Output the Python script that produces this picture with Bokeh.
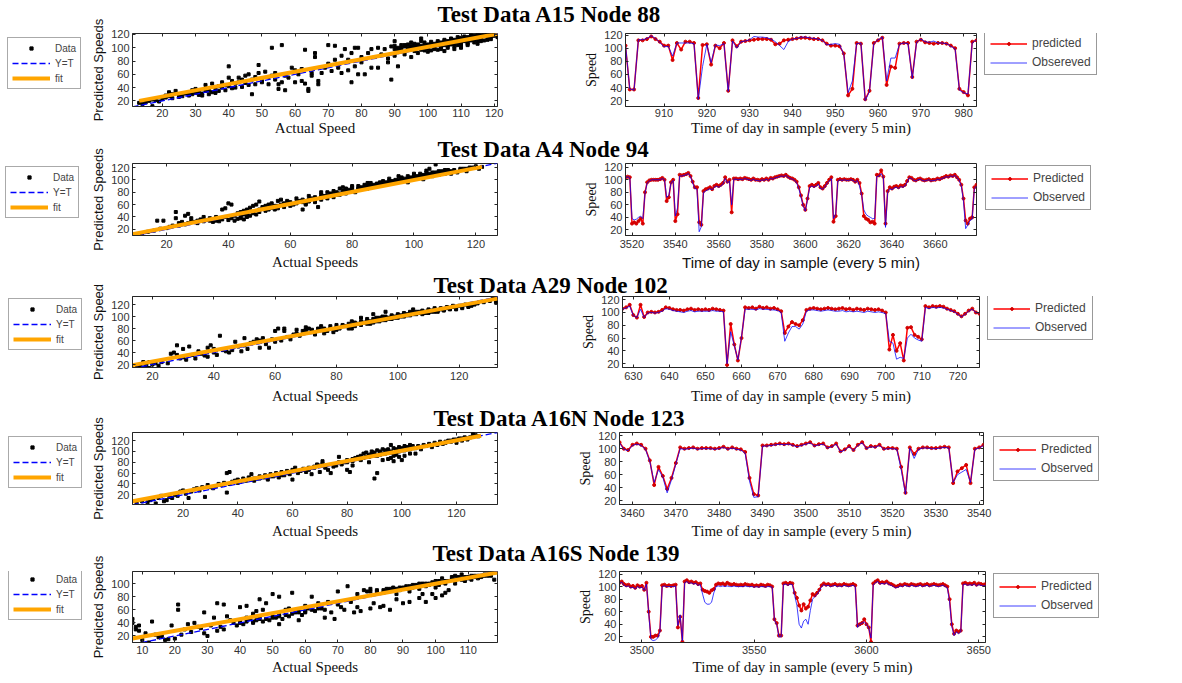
from bokeh.plotting import figure
from bokeh.models import Range1d, FixedTicker, Legend, LegendItem, Label, LinearAxis
from bokeh.layouts import column, row
from bokeh.embed import file_html
from bokeh.resources import INLINE

NAN = float("nan")

# ----------------------------- DATA -----------------------------
titles = ["Test Data A15 Node 88", "Test Data A4 Node 94", "Test Data A29 Node 102",
          "Test Data A16N Node 123", "Test Data A16S Node 139"]
sc_xlabels = ["Actual Speed", "Actual Speeds", "Actual Speeds", "Actual Speeds", "Actual Speeds"]
sc_ylabels = ["Predicted Speeds", "Predicted Speeds", "Predicted Speed", "Predicted Speeds", "Predicted Speeds"]
ts_xlabel = "Time of day in sample (every 5 min)"
ts_ylabel = "Speed"
sc_legend_labels = ["Data", "Y=T", "fit"]
ts_pred_labels = ["predicted", "Predicted", "Predicted", "Predicted", "Predicted"]
ts_obs_labels = ["Obsereved", "Observed", "Observed", "Observed", "Observed"]

# scatter axis ranges and ticks
sc_xr = [(11, 121), (9, 127), (13.5, 132.5), (1.5, 135), (7, 119)]
sc_yr = [(11.5, 121.5), (10, 126.5), (15, 133.5), (2, 135), (10, 118.5)]
sc_xticks = [[20, 30, 40, 50, 60, 70, 80, 90, 100, 110, 120],
             [20, 40, 60, 80, 100, 120],
             [20, 40, 60, 80, 100, 120],
             [20, 40, 60, 80, 100, 120],
             [10, 20, 30, 40, 50, 60, 70, 80, 90, 100, 110]]
sc_yticks = [[20, 40, 60, 80, 100, 120]] * 4 + [[20, 40, 60, 80, 100]]

# fit line end points
fit_x = [[13, 121], [9, 122], [13.5, 132.5], [1.5, 129], [7, 119]]
fit_y = [[20, 121], [12, 121], [19, 130], [8, 129], [16, 117]]

sc1_pts = [(13,17),(14,15),(15,18),(16,20),(17,12),(17,22),(18,21),(19,19),(20,23),(21,25),(21,28),(22,27),
 (22,33),(23,30),(23,24),(24,35),(25,26),(25,29),(26,27),(27,31),(28,28),(28,33),(29,30),(29,36),(30,38),
 (30,32),(31,29),(31,33),(32,31),(32,28),(33,35),(33,44),(34,30),(34,36),(35,33),(35,46),(36,38),(36,32),
 (37,42),(37,35),(38,40),(38,48),(39,36),(39,44),(40,72),(40,55),(40,42),(41,39),(41,50),(42,46),(42,40),
 (43,55),(43,48),(44,52),(44,41),(45,58),(45,47),(46,60),(46,44),(47,30),(47,52),(48,56),(48,45),(49,62),
 (49,74),(50,50),(50,48),(51,64),(52,56),(52,45),(53,58),(53,100),(54,62),(54,52),(55,38),(55,45),(56,104),
 (56,48),(57,36),(57,58),(58,55),(59,70),(60,48),(60,66),(61,60),(62,68),(62,50),(63,97),(63,46),(64,35),
 (64,38),(65,58),(65,62),(66,86),(66,92),(67,45),(67,50),(68,62),(69,70),(70,104),(70,76),(71,65),(72,103),
 (72,82),(73,70),(74,88),(74,62),(75,98),(76,66),(76,82),(77,92),(77,48),(78,100),(78,72),(79,60),(79,100),
 (80,78),(80,86),(81,60),(82,92),(83,70),(83,98),(84,86),(85,100),(85,70),(86,90),(87,98),(88,78),(88,84),
 (89,52),(89,102),(90,88),(90,98),(91,72),(91,95),(92,100),(92,104),(93,90),(93,102),(94,97),(95,103),
 (95,86),(96,104),(96,95),(97,100),(97,105),(98,110),(98,103),(99,104),(99,96),(100,102),(100,105),
 (101,103),(101,96),(102,106),(102,100),(103,104),(103,108),(104,102),(104,106),(105,110),(105,104),
 (106,103),(106,108),(107,112),(107,105),(108,110),(108,106),(109,112),(109,104),(110,115),(110,108),
 (111,113),(111,110),(112,116),(112,108),(113,115),(113,111),(114,118),(114,112),(115,116),(115,110),
 (116,119),(116,113),(117,118),(117,111),(118,120),(118,114),(119,117),(120,120),(121,116),(110,100),
 (112,104),(115,106),(108,98),(105,95),(100,94),(97,92),(103,97),(90,110),(95,108),(98,114),(96,106),(94,105),
 (95,100),(96,102),(97,103),(98,100),(99,102),(100,104),(101,106),(102,103),(103,106),(104,108),(105,107),
 (106,110),(107,109),(108,112),(109,110),(110,112),(111,114),(112,112),(113,117),(114,115),(115,118),
 (116,116),(117,120),(118,117),(119,120),(120,118),(99,108),(101,109),(103,110),(105,112),(107,114),
 (109,116),(111,117),(113,119),(115,120),(104,98),(106,100),(108,102),(110,104),(112,106),(114,108),
 (116,110),(118,112),(119,113),(102,98),(100,99),(98,97),(97,104),(96,100),(94,100),(93,104),(92,97),
 (91,100),(90,103)]

sc2_pts = [(10,12),(12,13),(14,16),(16,18),(17,34),(18,21),(19,34),(20,22),(21,24),(22,26),(23,48),(23,38),
 (24,26),(24,30),(25,32),(26,28),(26,42),(27,30),(27,45),(28,33),(28,38),(29,32),(30,34),(30,30),(31,36),
 (32,33),(32,40),(33,35),(34,34),(34,38),(35,36),(35,32),(36,40),(36,34),(37,38),(37,33),(38,52),(38,36),
 (39,54),(39,40),(40,62),(40,35),(41,60),(41,38),(42,42),(42,34),(43,46),(43,37),(44,48),(44,38),(45,50),
 (45,36),(46,52),(46,40),(47,55),(47,42),(48,58),(48,46),(49,60),(49,44),(50,65),(50,48),(51,56),(52,58),
 (52,50),(53,60),(53,52),(54,62),(54,55),(55,58),(56,66),(56,54),(57,68),(57,60),(58,60),(58,56),(59,66),
 (60,64),(60,58),(61,60),(62,70),(62,62),(63,66),(64,68),(64,52),(65,60),(66,74),(66,65),(67,70),(68,72),
 (68,64),(69,56),(70,76),(70,68),(71,74),(72,80),(72,70),(73,78),(74,82),(74,72),(75,80),(76,86),(76,76),
 (77,82),(78,86),(78,78),(79,84),(80,88),(80,82),(81,80),(82,90),(82,84),(83,86),(84,92),(84,88),(85,90),
 (86,95),(86,88),(87,92),(88,94),(88,90),(89,96),(90,92),(90,98),(91,94),(92,102),(92,96),(93,98),(94,100),
 (94,96),(95,100),(96,104),(96,98),(97,102),(98,106),(98,100),(99,104),(100,108),(100,102),(101,106),
 (102,110),(102,104),(103,106),(104,112),(104,106),(105,110),(106,110),(106,106),(107,112),(108,114),
 (108,108),(109,112),(110,116),(110,110),(111,112),(112,114),(113,116),(114,112),(115,116),(116,118),
 (117,114),(118,120),(120,122),(121,118),(122,121),(107,125),(105,118),(104,115),(100,110),(95,106),
 (85,86),(75,76),(65,62),(55,52),(45,44),(98,96),(103,101),(112,110),(85,95),(80,90),(70,80),(77,88),
 (83,88),(85,88),(87,90),(89,92),(91,96),(93,96),(95,98),(97,100),(99,102),(101,104),(103,108),(105,108),
 (107,110),(109,114),(111,116),(113,114),(115,118),(117,118),(119,120),(86,92),(88,92),(90,94),(92,98),
 (94,98),(96,102),(98,102),(100,106),(102,106),(104,108),(106,112),(108,112),(110,112),(60,62),(62,64),
 (64,64),(66,68),(68,70),(70,72),(72,74),(74,76),(76,78),(78,82),(80,84),(82,86),(44,42),(46,44),(48,48),
 (50,52),(52,54),(54,56),(56,58),(58,62)]

sc3_pts = [(15,16),(16,18),(17,24),(17,15),(18,22),(18,17),(19,14),(19,24),(20,20),(21,22),(22,18),(23,24),
 (25,22),(26,38),(27,40),(28,36),(28,52),(29,30),(30,46),(30,32),(31,28),(32,50),(33,36),(34,30),(35,42),
 (36,38),(37,35),(38,33),(38,48),(39,52),(40,40),(40,46),(41,36),(42,68),(43,44),(44,42),(45,40),(46,44),
 (47,58),(48,50),(49,42),(50,52),(50,64),(51,46),(52,56),(53,58),(54,62),(55,60),(55,48),(56,64),(57,54),
 (58,48),(59,62),(60,76),(60,58),(61,80),(62,60),(63,76),(63,80),(64,66),(65,62),(66,70),(67,72),(68,68),
 (69,76),(70,74),(70,82),(71,80),(72,74),(73,70),(74,76),(75,78),(76,72),(77,76),(78,80),(79,74),(80,82),
 (80,78),(81,80),(82,86),(83,84),(84,80),(85,86),(85,92),(86,84),(87,88),(88,92),(88,86),(89,90),(90,96),
 (90,88),(91,92),(92,90),(93,98),(94,92),(95,96),(95,100),(96,94),(97,98),(98,102),(98,96),(99,100),
 (100,104),(100,98),(101,102),(102,106),(102,100),(103,104),(104,108),(104,102),(105,106),(106,104),
 (107,108),(108,110),(108,104),(109,108),(110,112),(110,106),(111,110),(112,114),(112,108),(113,110),
 (114,112),(115,110),(116,114),(117,112),(118,116),(119,114),(120,118),(121,116),(122,120),(123,116),
 (124,118),(126,122),(128,124),(130,126),(132,124),(131,130),(92,104),(88,98),(75,84),(67,78),(96,108),
 (105,112),(85,80),
 (70,78),(72,78),(74,80),(76,80),(78,84),(80,86),(82,84),(84,88),(86,90),(88,90),(90,92),(92,96),(94,98),
 (96,100),(98,100),(100,102),(102,104),(104,106),(106,108),(108,108),(110,110),(112,112),(114,114),
 (116,116),(118,118),(91,88),(93,92),(95,94),(97,96),(99,98),(101,100),(103,102),(105,104),(107,106),
 (109,106),(111,108),(113,108),(115,112),(117,114),(119,112),(121,114),(123,118),(125,120)]

sc4_pts = [(3,5),(5,8),(7,6),(8,10),(9,12),(10,4),(11,14),(12,18),(13,8),(14,10),(15,16),(16,14),(17,20),
 (18,18),(19,26),(20,28),(21,22),(22,14),(23,26),(24,30),(25,32),(26,28),(27,34),(28,16),(29,38),(30,34),
 (31,32),(32,36),(33,40),(34,38),(35,42),(36,60),(36,24),(37,62),(37,40),(38,44),(39,46),(40,48),(40,42),
 (41,44),(42,50),(43,46),(44,52),(45,48),(45,58),(46,46),(47,50),(48,54),(49,52),(50,56),(51,48),(52,58),
 (53,54),(54,60),(55,52),(56,62),(57,56),(58,64),(59,58),(60,66),(60,48),(61,70),(62,60),(63,64),(64,68),
 (65,62),(66,70),(67,58),(68,72),(69,76),(70,74),(70,62),(71,78),(72,70),(73,66),(74,60),(75,72),(76,74),
 (77,80),(78,76),(79,80),(80,84),(80,66),(81,62),(82,86),(83,88),(84,90),(85,92),(85,84),(86,96),(87,90),
 (88,94),(88,80),(89,96),(90,98),(90,50),(91,60),(91,92),(92,100),(93,96),(94,102),(95,98),(96,100),
 (96,88),(97,92),(98,104),(99,100),(100,106),(100,84),(101,102),(102,108),(103,104),(104,110),(105,106),
 (106,108),(107,104),(108,112),(109,110),(110,114),(111,108),(112,116),(113,112),(114,118),(115,114),
 (116,116),(117,120),(118,118),(119,122),(120,116),(121,124),(122,120),(123,126),(124,124),(125,126),
 (126,132),(127,130),(128,128),(96,112),(98,94),(105,96),(82,74),(77,90),(71,82),(56,58),
 (80,80),(82,82),(84,86),(86,88),(88,90),(90,92),(92,94),(94,96),(96,98),(98,100),(100,102),(102,104),
 (104,106),(106,110),(108,110),(110,112),(112,114),(114,116),(116,118),(118,120),(120,122),(122,124),
 (124,122),(87,98),(89,100),(91,102),(93,104),(95,104),(97,106),(99,108),(101,110),(103,112),(93,84),
 (95,86),(97,82),(99,90),(101,92),(103,96),(46,50),(48,50),(50,52),(52,54),(54,56),(56,56),(58,60),
 (62,64),(64,66),(66,66),(68,70),(72,72)]

sc5_pts = [(7,46),(7,40),(8,34),(8,30),(9,36),(9,28),(10,14),(10,8),(11,24),(12,10),(13,42),(14,22),(15,18),
 (16,20),(17,14),(18,15),(19,36),(20,16),(21,68),(21,60),(22,22),(23,30),(24,38),(25,26),(26,40),(27,34),
 (28,32),(29,56),(29,24),(30,20),(31,36),(32,48),(33,70),(33,28),(34,34),(35,68),(35,30),(36,50),(37,44),
 (38,40),(39,36),(40,64),(40,42),(41,38),(42,66),(42,48),(43,46),(44,54),(44,40),(45,58),(45,44),(46,76),
 (46,48),(47,42),(47,60),(48,70),(49,44),(50,84),(50,50),(51,48),(52,80),(52,52),(53,46),(54,60),(55,50),
 (55,62),(56,86),(57,56),(58,60),(59,52),(60,66),(60,56),(61,62),(62,80),(63,58),(64,70),(65,62),(66,60),
 (67,72),(68,56),(69,46),(70,68),(70,88),(71,64),(72,60),(73,96),(74,72),(75,56),(76,84),(77,58),(78,90),
 (79,88),(80,62),(80,92),(81,70),(82,90),(83,64),(84,86),(85,92),(86,60),(87,90),(88,84),(89,94),(90,92),
 (90,70),(91,96),(92,88),(93,94),(94,98),(95,78),(95,92),(96,100),(97,72),(97,96),(98,100),(99,84),
 (100,104),(100,94),(101,98),(102,108),(102,82),(103,100),(104,104),(104,90),(105,110),(106,112),(106,100),
 (107,108),(108,106),(108,114),(109,104),(110,110),(111,106),(112,112),(113,108),(114,110),(115,112),
 (116,114),(117,112),(118,106),(96,84),(92,72),(88,76),(84,66),(76,64),(66,48),(58,44),(52,38),(100,78),(103,86),
 (80,88),(82,88),(84,90),(86,92),(88,92),(90,94),(92,96),(94,96),(96,98),(98,98),(100,100),(102,102),
 (104,104),(106,106),(108,108),(110,108),(112,110),(114,112),(116,112),(85,88),(87,94),(89,90),(91,92),
 (93,98),(95,100),(97,100),(99,102),(101,104),(103,104),(105,106),(107,110),(109,110),(111,112),(113,112),
 (115,114),(40,40),(42,42),(44,42),(46,46),(48,46),(50,48),(52,50),(54,52),(56,54),(58,56),(60,58),(62,60),(64,62)]

# time series: first sample index, predicted, observed
ts_starts = [901, 3517, 627, 3457, 3490]
ts_yr = [(11, 122.5), (11, 126), (14, 125), (14, 125), (11, 124)]
ts_xticks = [[910, 920, 930, 940, 950, 960, 970, 980],
             [3520, 3540, 3560, 3580, 3600, 3620, 3640, 3660],
             [630, 640, 650, 660, 670, 680, 690, 700, 710, 720],
             [3460, 3470, 3480, 3490, 3500, 3510, 3520, 3530, 3540],
             [3500, 3550, 3600, 3650]]
ts_yticks = [20, 40, 60, 80, 100, 120]

ts1_pred = [104,37,37,112,112,114,118,114,110,104, 104,82,108,98,110,110,108,24,105,106,
 75,104,100,108,35,112,103,110,111,112, 113,114,114,114,113,106,107,112,113,114,
 115,116,116,115,114,114,112,107,104,104, 103,92,28,38,108,107,22,35,108,112,
 116,44,72,70,107,108,108,56,110,113, 109,108,107,108,108,107,104,100,38,33, 28,110,112]
ts1_obs = [105,38,36,113,113,115,119,115,109,102, 103,88,108,108,108,108,107,22,72,106,
 78,105,104,107,34,111,100,110,111,113, 118,117,117,116,114,110,104,98,110,114,
 115,117,117,116,115,114,112,105,106,107, 106,90,32,50,107,108,20,34,107,113,
 117,50,85,85,106,108,107,54,109,114, 110,109,111,108,108,107,103,99,36,32, 30,108,113]

ts2_pred = [104,105,104,30,32,30,34,38,30,80, 96,99,100,100,100,100,101,103,100,66,
 72,96,100,34,45,108,107,108,109,111, 106,97,88,88,32,28,82,85,86,88,
 85,90,92,90,92,95,104,97,100,48, 102,102,101,102,101,103,102,101,100,102,
 100,100,99,101,100,102,100,103,102,104, 105,106,107,106,108,105,103,102,100,97,
 88,75,60,52,70,90,92,90,92,95, 88,86,90,95,100,104,33,42,100,101,
 100,101,100,100,101,100,97,100,95,78, 42,38,36,32,33,30,108,107,115,105,
 30,82,88,86,89,90,88,91,90,92, 98,104,103,100,99,101,102,100,99,100,
 101,99,100,100,102,101,103,104,106,105, 107,106,108,104,100,92,70,35,30,38, 40,88,92]
ts2_obs = [103,105,103,38,36,37,40,42,38,78, 95,98,100,100,100,100,100,102,100,72,
 75,95,99,42,55,106,106,107,108,110, 105,95,86,85,17,25,80,82,84,86,
 84,88,90,88,90,93,102,95,98,60, 101,101,100,101,100,102,101,100,99,101,
 99,99,98,100,99,101,99,102,101,103, 104,105,106,105,107,104,102,101,99,95,
 86,72,58,50,68,88,90,88,90,93, 86,85,88,94,98,102,38,45,98,100,
 99,100,99,99,100,99,96,99,90,75, 52,45,42,40,38,38,105,106,110,104,
 24,80,86,84,87,88,86,89,88,90, 96,103,102,99,98,100,101,99,98,99,
 100,98,99,99,101,100,102,103,105,104, 106,105,107,103,99,90,65,22,28,35, 37,86,90]

ts3_pred = [106,108,112,96,92,112,93,100,101,100, 101,104,108,107,105,104,104,103,105,106,
 104,105,104,105,104,106,105,104,103,18, 82,50,25,60,108,107,108,106,109,107,
 108,106,107,105,102,68,78,85,82,80, 88,104,106,107,106,105,106,107,106,105,
 106,107,105,106,104,106,105,104,106,105, 104,105,103,100,42,65,40,52,25,76,
 77,65,62,58,110,108,110,109,110,109, 106,104,102,98,94,98,103,106,100,98]
ts3_obs = [105,107,110,95,92,105,92,99,100,99, 100,102,106,105,103,102,101,100,102,103,
 101,102,102,102,102,103,102,102,101,20, 70,48,26,62,105,105,105,104,106,105,
 105,104,104,103,100,55,68,78,78,74, 82,102,104,104,103,102,103,104,103,102,
 102,103,101,102,101,102,101,100,102,101, 100,101,100,98,55,52,27,30,28,60,
 66,60,57,55,108,106,108,107,108,107, 105,103,101,97,93,97,102,105,100,99]

ts4_pred = [110,100,98,106,108,106,100,82,44,72, 58,38,55,78,102,100,101,102,100,101,
 101,101,100,101,103,100,102,100,99,95, 55,30,28,105,105,106,107,108,107,108,
 106,104,106,108,110,105,107,108,102,104, 108,96,99,104,98,106,110,101,104,103,
 106,100,101,101,100,72,32,102,92,100, 102,102,101,101,102,103,102,47,65,70, 75,47,100,102,106]
ts4_obs = [109,99,97,105,107,105,99,80,48,68, 56,32,52,76,100,99,100,101,99,100,
 100,100,99,100,102,99,101,99,98,93, 50,25,26,104,104,105,106,107,106,107,
 105,103,105,107,109,104,106,107,101,103, 107,95,98,103,97,105,109,100,103,102,
 105,99,100,100,99,68,30,101,85,99, 101,101,100,100,101,102,101,48,60,64, 68,48,99,101,105]

ts5_pred = [106,108,104,102,103,100,101,98,102,100, 101,95,106,60,20,20,22,22,30,102,
 103,101,102,101,102,103,35,52,12,108, 110,107,108,106,107,104,105,95,93,92,
 90,94,96,103,105,104,105,103,106,104, 103,104,103,102,103,102,104,103,102,103,
 101,102,101,103,102,101,103,102,100,48, 42,22,22,105,106,104,106,105,90,82,
 70,62,72,65,68,78,88,86,90,95, 102,105,103,104,102,103,104,102,103,102,
 104,103,102,103,104,102,38,40,42,48, 40,35,12,105,108,110,106,107,106,108,
 105,104,102,100,101,103,102,104,103,102, 104,103,102,103,104,102,103,104,102,103,
 104,103,102,103,104,102,100,80,40,25, 30,28,30,105,106,104,105,104,106,103, 105,104,103,104]
ts5_obs = [105,107,102,100,101,98,99,96,100,98, 99,94,104,58,16,14,15,18,28,100,
 101,100,100,100,100,101,38,55,14,106, 108,105,106,104,105,102,103,88,75,72,
 72,75,90,100,101,100,101,100,101,100, 100,101,100,100,100,100,101,100,100,100,
 99,100,99,100,100,99,100,100,99,46, 40,20,20,103,104,102,104,103,86,70,
 40,34,45,48,40,62,80,84,88,93, 100,103,101,102,100,101,102,100,101,100,
 102,101,100,101,102,100,35,40,42,44, 40,34,18,103,106,108,104,105,104,106,
 103,102,100,98,99,101,100,102,101,100, 102,101,100,101,102,100,101,102,100,101,
 102,101,100,101,102,100,98,76,36,22, 28,25,28,103,104,102,103,102,104,101, 103,102,101,102]

sc_points = [sc1_pts, sc2_pts, sc3_pts, sc4_pts, sc5_pts]
ts_preds = [ts1_pred, ts2_pred, ts3_pred, ts4_pred, ts5_pred]
ts_obss = [ts1_obs, ts2_obs, ts3_obs, ts4_obs, ts5_obs]

# ----------------------------- LAYOUT -----------------------------
BLOCK_H = [138, 136, 133, 134, 142]
TITLE_FIG_H = 30
TITLE_X = [437, 437, 433, 433, 432]
TITLE_C = [14, 11, 11, 11, 12]          # title centre from block top
LEGL_W = 88
SC_W = 575 - LEGL_W
SC_LEFT = 132 - LEGL_W
SC_RIGHT = 78
TOP = [33, 25, 22, 25, 30]
BOT = [31, 39, 40, 37, 41]
TS_FL = [625, 625, 622, 618, 618]       # ts frame left
TS_FR = [976, 976, 979, 983, 985]       # ts frame right
SPLIT_R = [979, 979, 982, 992, 992]
# legend positions, relative to the (row-aligned) frame bottom-left
LEGL_POS = [(7, 17), (5, 17), (8, 17), (8, 16), (8, 22)]
LEGR_POS = [(5, 31), (6, 25), (5, 27), (1, 23), (1, 24)]
TICK_STANDOFF = [2, 4, 4, 4, 3]
LABEL_STANDOFF = [0, 3, 5, 3, 2]
TS_XFONT = ["Liberation Serif", "Liberation Sans", "Liberation Serif", "Liberation Serif", "Liberation Serif"]

AX = "#262626"
TICK_TXT = "#333333"


def mirror_axes(p, xticks, yticks):
    for loc, ticks in (("above", xticks), ("right", yticks)):
        ax = LinearAxis(ticker=FixedTicker(ticks=ticks), major_tick_in=3, major_tick_out=0,
                        major_tick_line_color=AX, minor_tick_line_color=None, axis_line_color=None,
                        major_label_text_font_size="1px", major_label_text_color=None,
                        major_label_standoff=0)
        p.add_layout(ax, loc)


def style_axes(p, i, xticks, yticks, xlabel, ylabel, xfont, xsize, yfont, ysize):
    p.grid.visible = False
    p.outline_line_color = AX
    p.outline_line_width = 1
    p.border_fill_alpha = 0
    for ax in (p.xaxis[0], p.yaxis[0]):
        ax.axis_line_color = AX
        ax.major_tick_line_color = AX
        ax.major_tick_in = 3
        ax.major_tick_out = 0
        ax.minor_tick_line_color = None
        ax.major_label_text_font = "Liberation Sans"
        ax.major_label_text_font_size = "11px"
        ax.major_label_text_color = TICK_TXT
        ax.axis_label_text_font_style = "normal"
        ax.axis_label_text_color = "#111111"
    p.xaxis[0].ticker = FixedTicker(ticks=xticks)
    p.yaxis[0].ticker = FixedTicker(ticks=yticks)
    p.xaxis[0].axis_label = xlabel
    p.xaxis[0].axis_label_text_font = xfont
    p.xaxis[0].axis_label_text_font_size = xsize
    p.xaxis[0].major_label_standoff = TICK_STANDOFF[i]
    p.xaxis[0].axis_label_standoff = LABEL_STANDOFF[i]
    p.yaxis[0].axis_label = ylabel
    p.yaxis[0].axis_label_text_font = yfont
    p.yaxis[0].axis_label_text_font_size = ysize
    p.yaxis[0].major_label_standoff = 3
    p.yaxis[0].axis_label_standoff = 2
    mirror_axes(p, xticks, yticks)


def blank_fig(w, h, top=0, bottom=0):
    p = figure(width=w, height=h, x_range=Range1d(0, 1), y_range=Range1d(0, 1),
               toolbar_location=None, min_border=0, min_border_top=top, min_border_bottom=bottom,
               output_backend="svg", x_axis_location=None, y_axis_location=None,
               outline_line_color=None)
    p.grid.visible = False
    p.border_fill_alpha = 0
    p.background_fill_alpha = 0
    return p


def title_fig(i):
    p = blank_fig(1182, TITLE_FIG_H)
    p.add_layout(Label(x=TITLE_X[i], y=TITLE_FIG_H - TITLE_C[i], x_units="screen", y_units="screen",
                       text=titles[i], text_font="Liberation Serif", text_font_style="bold",
                       text_font_size="23px", text_baseline="middle", text_align="left",
                       text_color="black"))
    return p


def legend_left_fig(i):
    # legend-only panel: glyph renderers hold a single NaN so nothing is plotted, only the key
    p = blank_fig(LEGL_W, BLOCK_H[i], TOP[i], BOT[i])
    g_pts = p.scatter([NAN], [NAN], marker="square", size=3, fill_color="black", line_color="black")
    g_yt = p.line([NAN, NAN], [NAN, NAN], line_color="#0000FF", line_width=1.3, line_dash="6 3")
    g_fit = p.line([NAN, NAN], [NAN, NAN], line_color="#FFA500", line_width=4)
    leg = Legend(items=[LegendItem(label=sc_legend_labels[0], renderers=[g_pts]),
                        LegendItem(label=sc_legend_labels[1], renderers=[g_yt]),
                        LegendItem(label=sc_legend_labels[2], renderers=[g_fit])],
                 location=LEGL_POS[i], glyph_width=38, glyph_height=8, label_height=12,
                 spacing=3, padding=4, margin=0, label_standoff=5,
                 label_text_font="Liberation Sans", label_text_font_size="10px",
                 border_line_color="#555555", border_line_width=1,
                 background_fill_color="white", background_fill_alpha=1.0)
    p.add_layout(leg)
    return p


def legend_right_fig(i):
    p = blank_fig(1182 - SPLIT_R[i], BLOCK_H[i], TOP[i], BOT[i])
    g_line = p.line([NAN, NAN], [NAN, NAN], line_color="#FF0000", line_width=1.5)
    g_dots = p.scatter([NAN], [NAN], marker="circle", size=3, fill_color="#D40000", line_color="#D40000")
    g_obs = p.line([NAN, NAN], [NAN, NAN], line_color="#0000FF", line_width=1, line_alpha=0.75)
    leg = Legend(items=[LegendItem(label=ts_pred_labels[i], renderers=[g_line, g_dots]),
                        LegendItem(label=ts_obs_labels[i], renderers=[g_obs])],
                 location=LEGR_POS[i], glyph_width=37, glyph_height=7, label_height=14,
                 spacing=5, padding=5, margin=0, label_standoff=5,
                 label_text_font="Liberation Sans", label_text_font_size="12px",
                 border_line_color="#333333", border_line_width=1,
                 background_fill_color="white", background_fill_alpha=1.0)
    p.add_layout(leg)
    return p


def scatter_fig(i):
    pts = sc_points[i]
    xs = [a for a, b in pts]
    ys = [b for a, b in pts]
    p = figure(width=SC_W, height=BLOCK_H[i], x_range=Range1d(*sc_xr[i]), y_range=Range1d(*sc_yr[i]),
               min_border_left=SC_LEFT, min_border_right=SC_RIGHT, min_border_top=TOP[i],
               min_border_bottom=BOT[i], toolbar_location=None, output_backend="svg")
    p.scatter(xs, ys, marker="square", size=3, fill_color="black", line_color="black")
    lo = min(sc_xr[i][0], sc_yr[i][0])
    hi = max(sc_xr[i][1], sc_yr[i][1])
    p.line([lo, hi], [lo, hi], line_color="#0000FF", line_width=1.3, line_dash="6 3")
    p.line(fit_x[i], fit_y[i], line_color="#FFA500", line_width=4)
    style_axes(p, i, sc_xticks[i], sc_yticks[i], sc_xlabels[i], sc_ylabels[i],
               "Liberation Serif", "15px", "Liberation Sans", "13px")
    return p


def ts_fig(i):
    pred = ts_preds[i]
    obs = ts_obss[i]
    t = list(range(ts_starts[i], ts_starts[i] + len(pred)))
    p = figure(width=SPLIT_R[i] - 575, height=BLOCK_H[i], x_range=Range1d(t[0], t[-1]),
               y_range=Range1d(*ts_yr[i]),
               min_border_left=TS_FL[i] - 575, min_border_right=SPLIT_R[i] - TS_FR[i],
               min_border_top=TOP[i], min_border_bottom=BOT[i],
               toolbar_location=None, output_backend="svg")
    p.line(t, pred, line_color="#FF0000", line_width=1.5)
    p.scatter(t, pred, marker="circle", size=3, fill_color="#D40000", line_color="#D40000")
    p.line(t, obs, line_color="#0000FF", line_width=1, line_alpha=0.75)
    style_axes(p, i, ts_xticks[i], ts_yticks, ts_xlabel, ts_ylabel,
               TS_XFONT[i], "15px", "Liberation Serif", "14px")
    return p


children = []
for i in range(5):
    children.append(title_fig(i))
    children.append(row(legend_left_fig(i), scatter_fig(i), ts_fig(i), legend_right_fig(i),
                        margin=(-TITLE_FIG_H, 0, 0, 0)))

layout = column(*children)

open("out.html", "w").write(file_html(layout, INLINE))
